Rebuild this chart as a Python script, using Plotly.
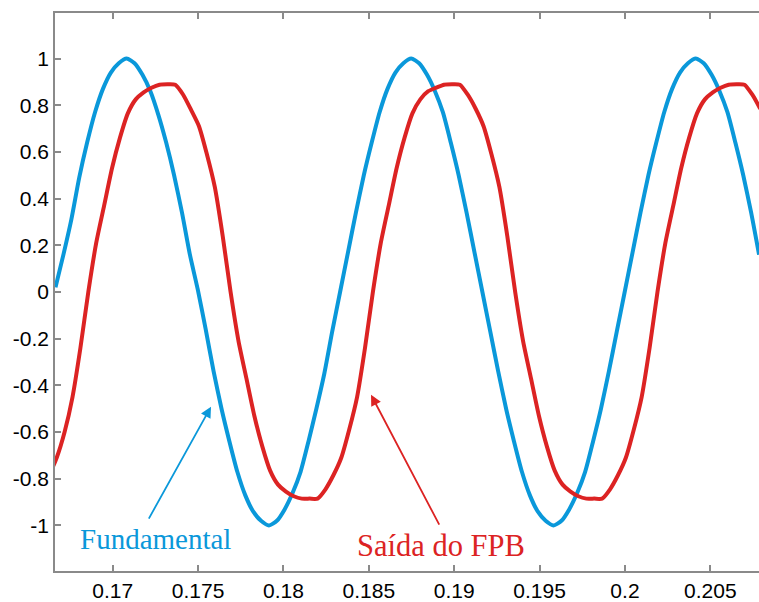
import plotly.graph_objects as go

# Sampling: 2160 samples/s (10 degrees of a 60 Hz cycle per sample)
DT = 1.0 / 2160
T0_FUND = 0.16665
T0_FPB = 0.165793

# Fundamental component (p.u.)
fundamental = [
    0.02, 0.16, 0.31, 0.49, 0.64, 0.77, 0.87, 0.94, 0.98, 1.00,
    0.98, 0.93, 0.86, 0.76, 0.64, 0.50, 0.34, 0.16, 0.01, -0.16,
    -0.34, -0.50, -0.64, -0.77, -0.87, -0.94, -0.98, -1.00, -0.98, -0.93,
    -0.86, -0.77, -0.64, -0.50, -0.35, -0.17, 0.00, 0.17, 0.34, 0.50,
    0.64, 0.77, 0.87, 0.94, 0.98, 1.00, 0.98, 0.93, 0.86, 0.77,
    0.64, 0.50, 0.34, 0.17, 0.00, -0.17, -0.34, -0.50, -0.64, -0.77,
    -0.87, -0.94, -0.98, -1.00, -0.98, -0.93, -0.86, -0.77, -0.64, -0.50,
    -0.34, -0.17, 0.00, 0.17, 0.34, 0.50, 0.64, 0.77, 0.87, 0.94,
    0.98, 1.00, 0.98, 0.93, 0.86, 0.77, 0.64, 0.50, 0.34, 0.16,
]

# Low-pass filter output (p.u.)
saida_fpb = [
    -0.84, -0.785, -0.71, -0.60, -0.45, -0.24,
    0.00, 0.21, 0.37, 0.53, 0.66, 0.765, 0.825, 0.855, 0.875, 0.888,
    0.89, 0.888, 0.845, 0.78, 0.71, 0.59, 0.45, 0.24,
    0.00, -0.21, -0.37, -0.53, -0.66, -0.765, -0.825, -0.855, -0.875, -0.885,
    -0.885, -0.885, -0.845, -0.785, -0.71, -0.59, -0.45, -0.24,
    0.00, 0.21, 0.37, 0.53, 0.66, 0.765, 0.825, 0.86, 0.875, 0.888,
    0.89, 0.888, 0.845, 0.785, 0.71, 0.59, 0.45, 0.24,
    0.00, -0.21, -0.37, -0.53, -0.66, -0.765, -0.825, -0.855, -0.875, -0.885,
    -0.885, -0.885, -0.845, -0.785, -0.71, -0.59, -0.45, -0.24,
    0.00, 0.21, 0.37, 0.53, 0.66, 0.765, 0.825, 0.855, 0.875, 0.888,
    0.89, 0.888, 0.845, 0.785,
]

t_fund = [T0_FUND + k * DT for k in range(len(fundamental))]
t_fpb = [T0_FPB + k * DT for k in range(len(saida_fpb))]

x_ticks = [0.17, 0.175, 0.18, 0.185, 0.19, 0.195, 0.2, 0.205]
x_tick_text = ["0.17", "0.175", "0.18", "0.185", "0.19", "0.195", "0.2", "0.205"]
y_ticks = [1, 0.8, 0.6, 0.4, 0.2, 0, -0.2, -0.4, -0.6, -0.8, -1]
y_tick_text = ["1", "0.8", "0.6", "0.4", "0.2", "0", "-0.2", "-0.4", "-0.6", "-0.8", "-1"]

BLUE = "#0A98DA"
RED = "#DC2323"
AXIS = "#8A8A8A"

fig = go.Figure()
fig.add_trace(go.Scatter(x=t_fund, y=fundamental, mode="lines",
                         line=dict(color=BLUE, width=4, shape="spline", smoothing=0.6),
                         name="Fundamental"))
fig.add_trace(go.Scatter(x=t_fpb, y=saida_fpb, mode="lines",
                         line=dict(color=RED, width=4, shape="spline", smoothing=0.6),
                         name="Saída do FPB"))

# labels with pointer arrows
fig.add_annotation(x=0.175757, y=-0.491, ax=0.172067, ay=-0.977,
                   xref="x", yref="y", axref="x", ayref="y", text="",
                   showarrow=True, arrowhead=2, arrowsize=1.2, arrowwidth=1.8,
                   arrowcolor=BLUE)
fig.add_annotation(x=0.185128, y=-0.44, ax=0.189169, ay=-1.003,
                   xref="x", yref="y", axref="x", ayref="y", text="",
                   showarrow=True, arrowhead=2, arrowsize=1.2, arrowwidth=1.8,
                   arrowcolor=RED)
fig.add_annotation(x=0.172477, y=-1.058, text="Fundamental", showarrow=False,
                   font=dict(family="Liberation Serif", size=29, color=BLUE))
fig.add_annotation(x=0.189234, y=-1.09, text="Saída do FPB", showarrow=False,
                   font=dict(family="Liberation Serif", size=30.5, color=RED))

fig.update_layout(
    width=759, height=602,
    margin=dict(l=55, r=0, t=13, b=29),
    paper_bgcolor="white", plot_bgcolor="white",
    showlegend=False,
    font=dict(family="Liberation Sans", size=21, color="black"),
)
fig.update_xaxes(range=[0.16662, 0.20785], tickvals=x_ticks, ticktext=x_tick_text,
                 showgrid=False, zeroline=False, showline=True, linecolor=AXIS,
                 linewidth=1.5, mirror="ticks", ticks="inside", ticklen=6,
                 tickcolor=AXIS, tickwidth=1.5)
fig.update_yaxes(range=[-1.195, 1.195], tickvals=y_ticks, ticktext=y_tick_text,
                 showgrid=False, zeroline=False, showline=True, linecolor=AXIS,
                 linewidth=1.5, ticks="inside", ticklen=6,
                 tickcolor=AXIS, tickwidth=1.5)

fig.write_html("out.html")
